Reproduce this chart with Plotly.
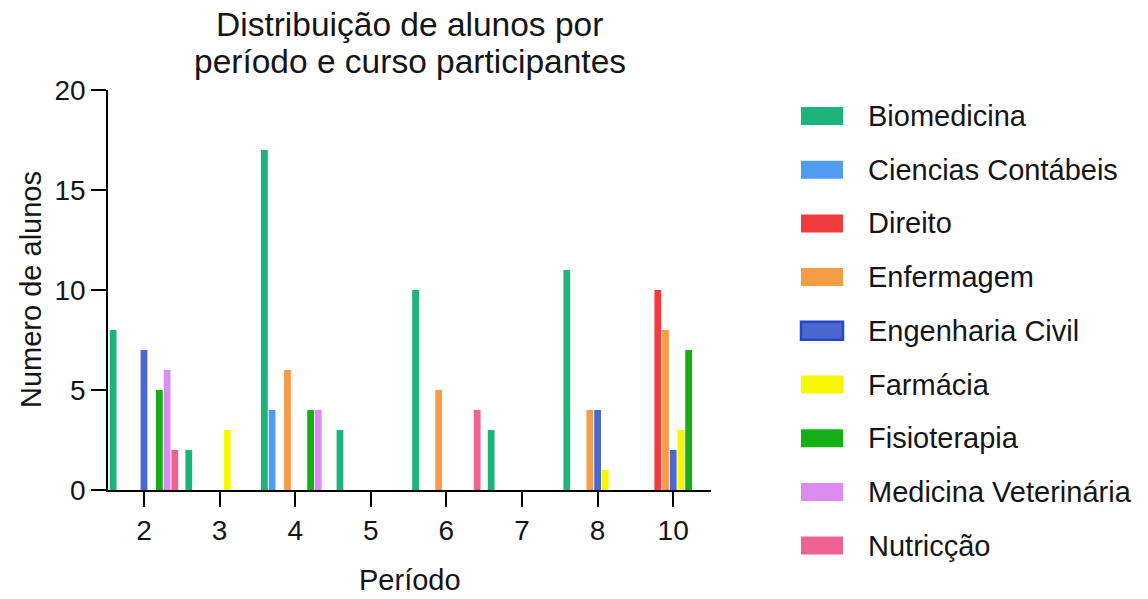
import plotly.graph_objects as go

periods = ["2", "3", "4", "5", "6", "7", "8", "10"]
courses = ["Biomedicina", "Ciencias Contábeis", "Direito", "Enfermagem",
           "Engenharia Civil", "Farmácia", "Fisioterapia",
           "Medicina Veterinária", "Nutricção"]
biomedicina = [8, 2, 17, 3, 10, 3, 11, 0]
ciencias = [0, 0, 4, 0, 0, 0, 0, 0]
direito = [0, 0, 0, 0, 0, 0, 0, 10]
enfermagem = [0, 0, 6, 0, 5, 0, 4, 8]
eng_civil = [7, 0, 0, 0, 0, 0, 4, 2]
farmacia = [0, 3, 0, 0, 0, 0, 1, 3]
fisioterapia = [5, 0, 4, 0, 0, 0, 0, 7]
med_vet = [6, 0, 4, 0, 0, 0, 0, 0]
nutricao = [2, 0, 0, 0, 4, 0, 0, 0]
series = [biomedicina, ciencias, direito, enfermagem, eng_civil,
          farmacia, fisioterapia, med_vet, nutricao]
colors = ["#1db47a", "#4f9cf0", "#f03c3c", "#f59c46", "#4a68d0",
          "#f7f700", "#16b016", "#dc8cf0", "#ee6292"]
borders = [None, None, None, None, "#2447c4", None, None, None, None]
title_lines = ["Distribuição de alunos por", "período e curso participantes"]

FONT = "Liberation Sans, Arial, sans-serif"
TXT = "#151515"
W, H = 1148, 599
L, R, T, B = 108, 711, 90, 490

fig = go.Figure()
for name, vals, col in zip(courses, series, colors):
    fig.add_trace(go.Bar(
        x=periods, y=vals, name=name,
        marker=dict(color=col, line=dict(width=0)),
        showlegend=False,
    ))

def px_x(p):
    return (p - L) / (R - L)

def px_y(p):
    return (B - p) / (B - T)

shapes = []
annotations = []
for i, (name, col, bc) in enumerate(zip(courses, colors, borders)):
    cy = 116 + 53.7 * i
    shapes.append(dict(
        type="rect", xref="paper", yref="paper",
        x0=px_x(801), x1=px_x(843), y0=px_y(cy + 9), y1=px_y(cy - 9),
        fillcolor=col,
        line=dict(color=bc if bc else col, width=2.5 if bc else 0),
    ))
    annotations.append(dict(
        xref="paper", yref="paper", x=px_x(866), y=px_y(cy),
        xanchor="left", yanchor="middle", text=name, showarrow=False,
        font=dict(family=FONT, size=29, color=TXT),
    ))

for line, cy in zip(title_lines, [25, 61]):
    annotations.append(dict(
        xref="paper", yref="paper", x=0.5, y=px_y(cy),
        xanchor="center", yanchor="middle", text=line, showarrow=False,
        font=dict(family=FONT, size=33.5, color=TXT),
    ))

annotations.append(dict(
    xref="paper", yref="paper", x=0.5, y=px_y(580),
    xanchor="center", yanchor="middle", text="Período", showarrow=False,
    font=dict(family=FONT, size=29, color=TXT),
))
annotations.append(dict(
    xref="paper", yref="paper", x=px_x(31), y=px_y(290),
    xanchor="center", yanchor="middle", text="Numero de alunos",
    showarrow=False, textangle=-90,
    font=dict(family=FONT, size=29, color=TXT),
))

fig.update_layout(
    width=W, height=H,
    margin=dict(l=L, r=W - R, t=T, b=H - B, pad=0),
    paper_bgcolor="white", plot_bgcolor="white",
    barmode="group", bargap=0.083, bargroupgap=0.12,
    xaxis=dict(
        type="category", categoryorder="array", categoryarray=periods,
        range=[-0.476, 7.5],
        showline=True, linecolor="black", linewidth=1.5,
        ticks="outside", ticklen=15, tickwidth=1.5, tickcolor="black",
        showgrid=False, zeroline=False,
        tickfont=dict(family=FONT, size=28, color=TXT),
    ),
    yaxis=dict(
        range=[0, 20], tickvals=[0, 5, 10, 15, 20],
        showline=True, linecolor="black", linewidth=1.5,
        ticks="outside", ticklen=15, tickwidth=1.5, tickcolor="black",
        showgrid=False, zeroline=False,
        tickfont=dict(family=FONT, size=28, color=TXT),
    ),
    shapes=shapes,
    annotations=annotations,
)

fig.write_html("out.html")
